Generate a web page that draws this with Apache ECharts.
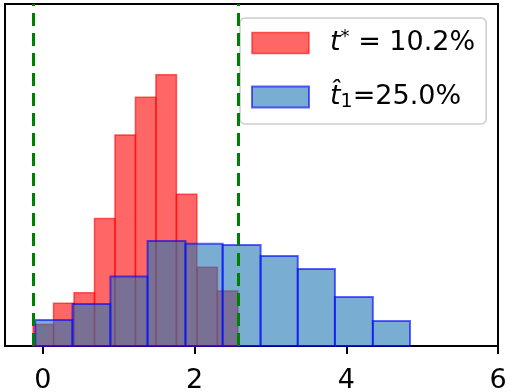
<!DOCTYPE html>
<html>
<head>
<meta charset="utf-8">
<script src="https://cdn.jsdelivr.net/npm/echarts@6.0.0/dist/echarts.min.js"></script>
<style>
html, body { margin: 0; padding: 0; background: #fff; }
#main { width: 508px; height: 392px; }
</style>
</head>
<body>
<div id="main"></div>
<script>
// histogram bins (edges + density heights)
var redEdges = [-0.13, 0.14, 0.41, 0.68, 0.95, 1.22, 1.49, 1.76, 2.03, 2.30, 2.57];
var redHeights = [0.063, 0.125, 0.156, 0.373, 0.617, 0.727, 0.793, 0.444, 0.230, 0.161];
var blueEdges = [-0.10, 0.39, 0.89, 1.38, 1.88, 2.37, 2.87, 3.36, 3.85, 4.35, 4.84];
var blueHeights = [0.076, 0.123, 0.203, 0.307, 0.299, 0.295, 0.263, 0.225, 0.143, 0.073];
var dashLines = [-0.13, 2.57];
var xTicks = [0, 2, 4, 6];
var names = ['t* = 10.2%', 't\u03021=25.0%'];

var redFill = 'rgba(255,0,0,0.6)';
var blueFill = 'rgba(31,119,180,0.6)';
var blueEdge = 'rgba(0,0,255,0.6)';

function toBins(edges, heights) {
  var out = [];
  for (var i = 0; i < heights.length; i++) {
    out.push([edges[i], edges[i + 1], heights[i]]);
  }
  return out;
}

function histItem(fill, stroke, lw) {
  return function (params, api) {
    var p0 = api.coord([api.value(0), 0]);
    var p1 = api.coord([api.value(1), api.value(2)]);
    return {
      type: 'rect',
      shape: { x: p0[0], y: p1[1], width: p1[0] - p0[0], height: p0[1] - p1[1] },
      style: { fill: fill, stroke: stroke, lineWidth: lw }
    };
  };
}

var font = 'DejaVu Sans';
var myChart = echarts.init(document.getElementById('main'));
myChart.setOption({
  animation: false,
  grid: {
    left: 5, right: 10, top: 4, bottom: 46,
    show: true, borderColor: '#000', borderWidth: 2,
    outerBoundsMode: 'none'
  },
  xAxis: {
    type: 'value', min: -0.5, max: 6,
    axisLine: { show: false },
    splitLine: { show: false },
    axisTick: { show: true, length: 8, lineStyle: { color: '#000', width: 2 }, customValues: xTicks },
    axisLabel: { customValues: xTicks, fontSize: 27, color: '#000', fontFamily: font, margin: 21 }
  },
  yAxis: { type: 'value', min: 0, max: 1, show: false },
  legend: {
    orient: 'vertical',
    left: 240, top: 18,
    padding: [10, 11, 12, 11],
    itemGap: 27,
    itemWidth: 57, itemHeight: 21,
    selectedMode: false,
    backgroundColor: 'rgba(255,255,255,0.8)',
    borderColor: '#cccccc', borderWidth: 1.5, borderRadius: 5,
    data: [
      { name: names[0], icon: 'rect', itemStyle: { color: redFill, borderColor: redFill, borderWidth: 1.5 } },
      { name: names[1], icon: 'rect', itemStyle: { color: blueFill, borderColor: blueEdge, borderWidth: 2 } }
    ],
    formatter: function (name) {
      if (name === names[0]) return '{it|t}{sup|*}{txt| = 10.2%}';
      return '{it|t\u0302}{sub|1}{txt|=25.0%}';
    },
    textStyle: {
      fontFamily: font, fontSize: 27, color: '#000',
      rich: {
        it: { fontFamily: font, fontSize: 27, fontStyle: 'italic', padding: [0, 0, 0, 16], lineHeight: 30 },
        sup: { fontFamily: font, fontSize: 18, verticalAlign: 'top', lineHeight: 18 },
        sub: { fontFamily: font, fontSize: 19, verticalAlign: 'bottom', lineHeight: 19 },
        txt: { fontFamily: font, fontSize: 27, lineHeight: 30 }
      }
    }
  },
  series: [
    {
      name: names[0], type: 'custom',
      itemStyle: { color: redFill },
      encode: { x: [0, 1], y: 2 },
      data: toBins(redEdges, redHeights),
      renderItem: histItem(redFill, redFill, 1.5),
      z: 2
    },
    {
      name: names[1], type: 'custom',
      itemStyle: { color: blueFill },
      encode: { x: [0, 1], y: 2 },
      data: toBins(blueEdges, blueHeights),
      renderItem: histItem(blueFill, blueEdge, 2),
      z: 3
    },
    {
      type: 'line', data: [], silent: true, z: 10,
      markLine: {
        symbol: 'none', silent: true, animation: false,
        label: { show: false },
        lineStyle: { color: '#008000', width: 3, type: [13, 7] },
        data: dashLines.map(function (v) { return { xAxis: v }; })
      }
    }
  ]
});
</script>
</body>
</html>
